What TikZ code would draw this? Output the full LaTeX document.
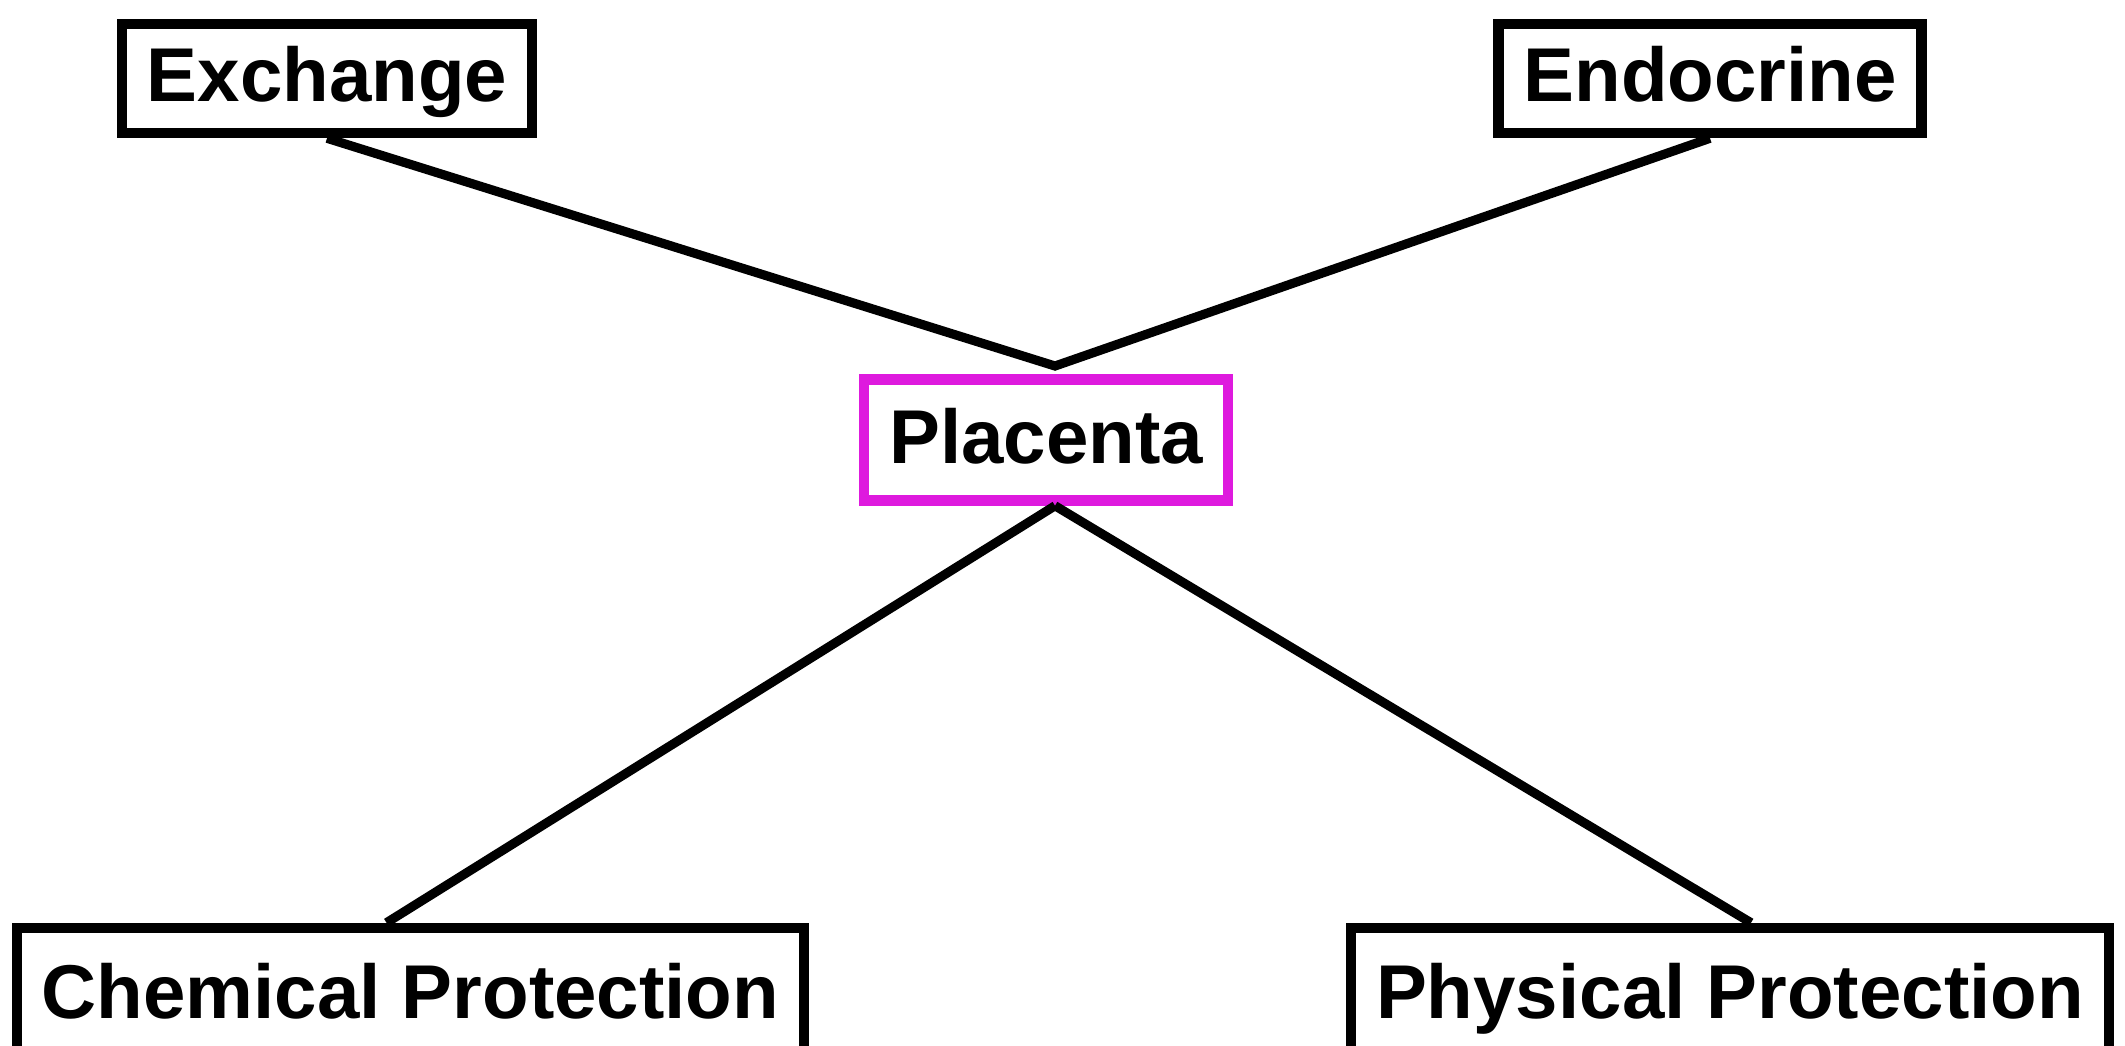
\documentclass[tikz,border=0pt]{standalone}
\usepackage{fontspec}
\setmainfont{Liberation Sans}
\usepackage{tikz}
\definecolor{placentapink}{RGB}{222,26,222}
\tikzset{topic/.style={draw,rectangle,line width=3pt,inner xsep=0.25cm,inner ysep=0pt,
           minimum height=1.09cm,text height=1.36em,text depth=0.04em,
           font=\fontsize{21.7}{26}\selectfont\bfseries},
         hub/.style={topic,draw=placentapink,minimum height=1.21cm},
         low/.style={topic,minimum height=1.34cm},
         link/.style={line width=2.6pt}}

\begin{document}
\begin{tikzpicture}
  \useasboundingbox (0,0) rectangle (21.25,-10.45);
  % centre and the four roles
  \node[hub] (pl) at (10.46,-4.40) {Placenta};
  \node[topic] (ex) at (3.27,-0.785) {Exchange};
  \node[topic] (en) at (17.10,-0.785) {Endocrine};
  \node[low] (chem) at (4.105,-9.95) {Chemical Protection};
  \node[low] (phys) at (17.30,-9.95) {Physical Protection};
  \coordinate (meet) at (10.55,-3.66);
  % connectors
  \draw[link] (ex.south) -- (meet) -- (en.south);
  \draw[link] ([xshift=0.09cm]pl.south) -- ([xshift=-0.24cm]chem.north);
  \draw[link] ([xshift=0.09cm]pl.south) -- ([xshift=0.21cm]phys.north);
\end{tikzpicture}
\end{document}
